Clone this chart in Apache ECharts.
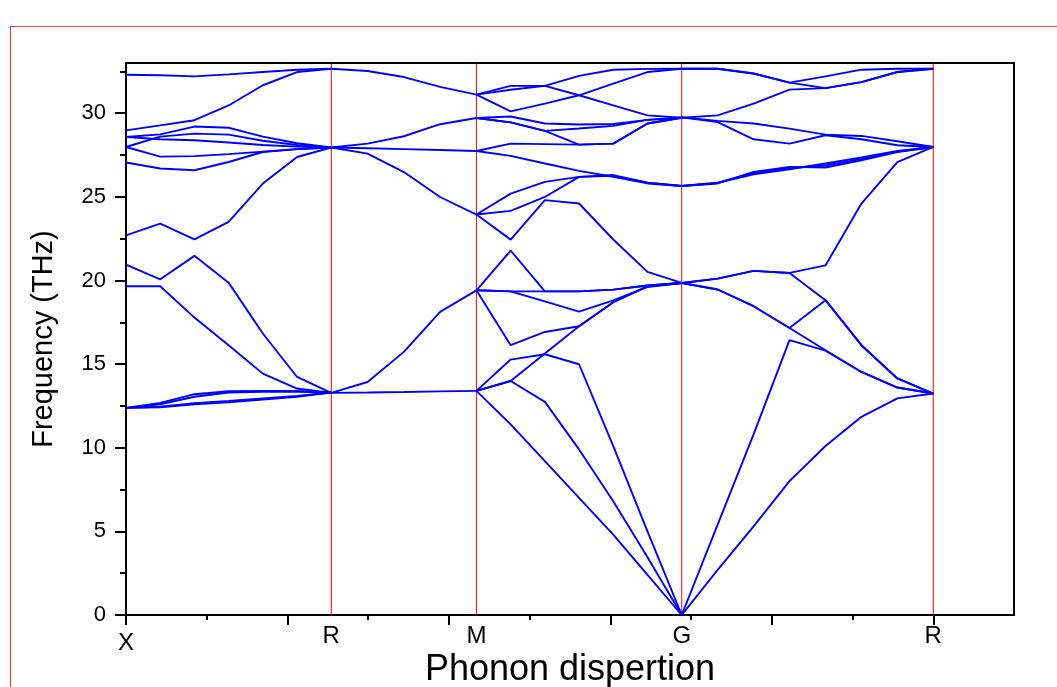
<!DOCTYPE html>
<html>
<head>
<meta charset="utf-8">
<title>Phonon dispersion</title>
<script src="https://cdn.jsdelivr.net/npm/echarts@6/dist/echarts.min.js"></script>
<style>
  html, body { margin: 0; padding: 0; background: #ffffff; }
  #chart { width: 1057px; height: 687px; }
</style>
</head>
<body>
<div id="chart"></div>
<script>
// High-symmetry path (normalised distance along X-R-M-G-R)
const symPoints = ['X', 'R', 'M', 'G', 'R'];
const symPos = [0, 0.2543, 0.4341, 0.6884, 1.0];

// k-point positions of each path segment
const kXR = [0, 0.0424, 0.0848, 0.1271, 0.1695, 0.2119, 0.2543];
const kRM = [0.2543, 0.2992, 0.3442, 0.3891, 0.4341];
const kMG = [0.4341, 0.4765, 0.5189, 0.5612, 0.6036, 0.6460, 0.6884];
const kGR = [0.6884, 0.7329, 0.7774, 0.8219, 0.8665, 0.9110, 0.9555, 1.0];

// Frequencies (THz) of the branches on each segment
const bandsXR = [
  [32.30, 32.27, 32.20, 32.32, 32.46, 32.60, 32.66],
  [28.97, 29.27, 29.58, 30.46, 31.67, 32.46, 32.66],
  [28.58, 28.73, 29.20, 29.13, 28.60, 28.20, 27.95],
  [27.98, 28.60, 28.78, 28.72, 28.35, 28.10, 27.95],
  [28.58, 28.44, 28.38, 28.25, 28.10, 28.00, 27.95],
  [27.98, 27.40, 27.43, 27.55, 27.70, 27.85, 27.95],
  [27.05, 26.69, 26.59, 27.08, 27.68, 27.85, 27.95],
  [22.70, 23.40, 22.46, 23.50, 25.79, 27.38, 27.95],
  [20.95, 20.07, 21.47, 19.87, 16.83, 14.23, 13.28],
  [19.65, 19.65, 17.78, 16.13, 14.43, 13.54, 13.28],
  [12.38, 12.68, 13.20, 13.38, 13.40, 13.40, 13.30],
  [12.38, 12.60, 13.05, 13.30, 13.35, 13.35, 13.30],
  [12.38, 12.45, 12.66, 12.80, 12.95, 13.10, 13.30],
  [12.38, 12.42, 12.60, 12.72, 12.88, 13.05, 13.30]
];

const bandsRM = [
  [32.66, 32.52, 32.16, 31.57, 31.11],
  [27.95, 28.18, 28.62, 29.34, 29.71],
  [27.95, 27.90, 27.85, 27.80, 27.74],
  [27.95, 27.58, 26.48, 24.99, 23.94],
  [13.28, 13.93, 15.73, 18.12, 19.41],
  [13.28, 13.30, 13.33, 13.37, 13.40]
];

const bandsMG = [
  [31.11, 31.63, 31.63, 32.23, 32.60, 32.65, 32.66],
  [31.11, 31.40, 31.63, 31.07, 30.47, 29.87, 29.73],
  [31.11, 30.11, 30.57, 31.07, 31.77, 32.46, 32.66],
  [29.71, 29.80, 29.38, 29.32, 29.35, 29.60, 29.75],
  [29.71, 29.45, 28.94, 29.08, 29.24, 29.60, 29.73],
  [29.71, 29.45, 28.94, 28.12, 28.18, 29.38, 29.73],
  [27.74, 28.18, 28.15, 28.12, 28.18, 29.38, 29.73],
  [27.74, 27.45, 26.99, 26.55, 26.20, 25.80, 25.65],
  [23.94, 25.19, 25.89, 26.19, 26.30, 25.85, 25.65],
  [23.94, 24.16, 24.99, 26.19, 26.25, 25.85, 25.65],
  [23.94, 22.44, 24.80, 24.60, 22.45, 20.51, 19.85],
  [19.41, 21.79, 19.35, 19.35, 19.45, 19.70, 19.85],
  [19.41, 19.35, 19.35, 19.35, 19.45, 19.70, 19.85],
  [19.41, 19.35, 18.75, 18.14, 18.81, 19.61, 19.85],
  [19.41, 16.13, 16.92, 17.26, 18.70, 19.65, 19.85],
  [13.40, 13.99, 15.63, 17.26, 18.70, 19.65, 19.85],
  [13.40, 15.27, 15.59, 14.99, 10.10, 5.00, 0],
  [13.40, 13.99, 12.74, 9.90, 6.80, 3.45, 0],
  [13.40, 11.40, 9.20, 7.00, 4.80, 2.40, 0]
];

const bandsGR = [
  [32.66, 32.66, 32.37, 31.83, 32.20, 32.60, 32.66, 32.66],
  [32.66, 32.66, 32.37, 31.83, 31.50, 31.86, 32.46, 32.66],
  [29.73, 29.87, 30.57, 31.41, 31.50, 31.86, 32.46, 32.66],
  [29.75, 29.54, 29.38, 29.08, 28.72, 28.64, 28.32, 27.98],
  [29.75, 29.47, 28.44, 28.18, 28.68, 28.44, 28.08, 27.98],
  [25.65, 25.83, 26.35, 26.65, 26.99, 27.35, 27.74, 27.98],
  [25.65, 25.80, 26.49, 26.79, 26.75, 27.18, 27.68, 27.98],
  [25.65, 25.85, 26.42, 26.72, 26.87, 27.25, 27.70, 27.98],
  [19.85, 20.11, 20.57, 20.45, 20.90, 24.60, 27.08, 27.98],
  [19.85, 19.46, 18.46, 17.16, 15.83, 14.53, 13.60, 13.24],
  [19.85, 19.46, 18.46, 17.16, 18.82, 16.13, 14.14, 13.24],
  [19.85, 20.11, 20.57, 20.45, 18.82, 16.13, 14.14, 13.24],
  [0, 5.40, 10.80, 16.43, 15.80, 14.53, 13.60, 13.24],
  [0, 2.70, 5.30, 8.00, 10.10, 11.85, 12.95, 13.24]
];

// Axis range and ticks
const yRange = [0, 33];
const xRange = [0, 1.1];
const yMajorTicks = [0, 5, 10, 15, 20, 25, 30];
const yMinorTicks = [2.5, 7.5, 12.5, 17.5, 22.5, 27.5, 32.5];
const xMajorTicks = [0, 0.2, 0.4, 0.6, 0.8, 1.0];
const xMinorTicks = [0.1, 0.3, 0.5, 0.7, 0.9];

const FONT = '"Liberation Sans", Arial, sans-serif';
const BAND_COLOR = '#0000ff';

const segments = [
  { k: kXR, bands: bandsXR },
  { k: kRM, bands: bandsRM },
  { k: kMG, bands: bandsMG },
  { k: kGR, bands: bandsGR }
];

const series = [];

// red vertical lines through the high-symmetry points R, M, G, R
symPos.slice(1).forEach(function (p) {
  series.push({
    type: 'line',
    z: 1,
    silent: true,
    symbol: 'none',
    animation: false,
    lineStyle: { color: '#ff0000', width: 1 },
    data: [[p, yRange[0]], [p, yRange[1]]]
  });
});

// phonon branches
segments.forEach(function (seg) {
  seg.bands.forEach(function (band) {
    series.push({
      type: 'line',
      z: 3,
      silent: true,
      symbol: 'none',
      animation: false,
      lineStyle: { color: BAND_COLOR, width: 1.9 },
      data: seg.k.map(function (kx, i) { return [kx, band[i]]; })
    });
  });
});

function symLabel(v) {
  let idx = 0, best = Infinity;
  symPos.forEach(function (p, i) {
    const d = Math.abs(p - v);
    if (d < best) { best = d; idx = i; }
  });
  return idx === 0 ? '{low|' + symPoints[idx] + '}' : symPoints[idx];
}

const chart = echarts.init(document.getElementById('chart'), null, { renderer: 'canvas' });

chart.setOption({
  backgroundColor: '#ffffff',
  animation: false,
  graphic: [{
    type: 'rect',
    left: 8,
    top: 24,
    shape: { width: 1100, height: 700 },
    style: { fill: 'none', stroke: '#ff4040', lineWidth: 1.2 },
    silent: true,
    z: -10
  }],
  grid: {
    left: 126,
    right: 43,
    top: 63,
    bottom: 72,
    outerBoundsMode: 'none',
    containLabel: false,
    show: true,
    borderColor: '#000000',
    borderWidth: 2,
    backgroundColor: 'transparent'
  },
  xAxis: [{
    type: 'value',
    min: xRange[0],
    max: xRange[1],
    position: 'bottom',
    axisLine: { onZero: false, lineStyle: { color: '#000000', width: 2 } },
    axisTick: { customValues: xMajorTicks, length: 10, lineStyle: { color: '#000000', width: 2 } },
    axisLabel: { show: false },
    splitLine: { show: false },
    minorSplitLine: { show: false },
    name: 'Phonon dispertion',
    nameLocation: 'middle',
    nameGap: 37,
    nameTextStyle: { color: '#000000', fontSize: 36, fontFamily: FONT }
  }, {
    type: 'value',
    min: xRange[0],
    max: xRange[1],
    position: 'bottom',
    axisLine: { show: false, onZero: false },
    axisTick: { customValues: xMinorTicks, length: 5, lineStyle: { color: '#000000', width: 2 } },
    axisLabel: {
      customValues: symPos,
      formatter: symLabel,
      margin: 9,
      color: '#000000',
      fontSize: 24,
      fontFamily: FONT,
      rich: {
        low: { color: '#000000', fontSize: 24, fontFamily: FONT, padding: [7, 0, 0, 0] }
      }
    },
    splitLine: { show: false },
    minorSplitLine: { show: false }
  }],
  yAxis: [{
    type: 'value',
    min: yRange[0],
    max: yRange[1],
    position: 'left',
    axisLine: { onZero: false, lineStyle: { color: '#000000', width: 2 } },
    axisTick: { customValues: yMajorTicks, length: 11, lineStyle: { color: '#000000', width: 2 } },
    axisLabel: {
      customValues: yMajorTicks,
      margin: 20,
      color: '#000000',
      fontSize: 22,
      fontFamily: FONT
    },
    splitLine: { show: false },
    name: 'Frequency (THz)',
    nameLocation: 'middle',
    nameGap: 68,
    nameTextStyle: { color: '#000000', fontSize: 29, fontFamily: FONT }
  }, {
    type: 'value',
    min: yRange[0],
    max: yRange[1],
    position: 'left',
    axisLine: { show: false, onZero: false },
    axisTick: { customValues: yMinorTicks, length: 6, lineStyle: { color: '#000000', width: 2 } },
    axisLabel: { show: false },
    splitLine: { show: false }
  }],
  series: series
});
</script>
</body>
</html>
